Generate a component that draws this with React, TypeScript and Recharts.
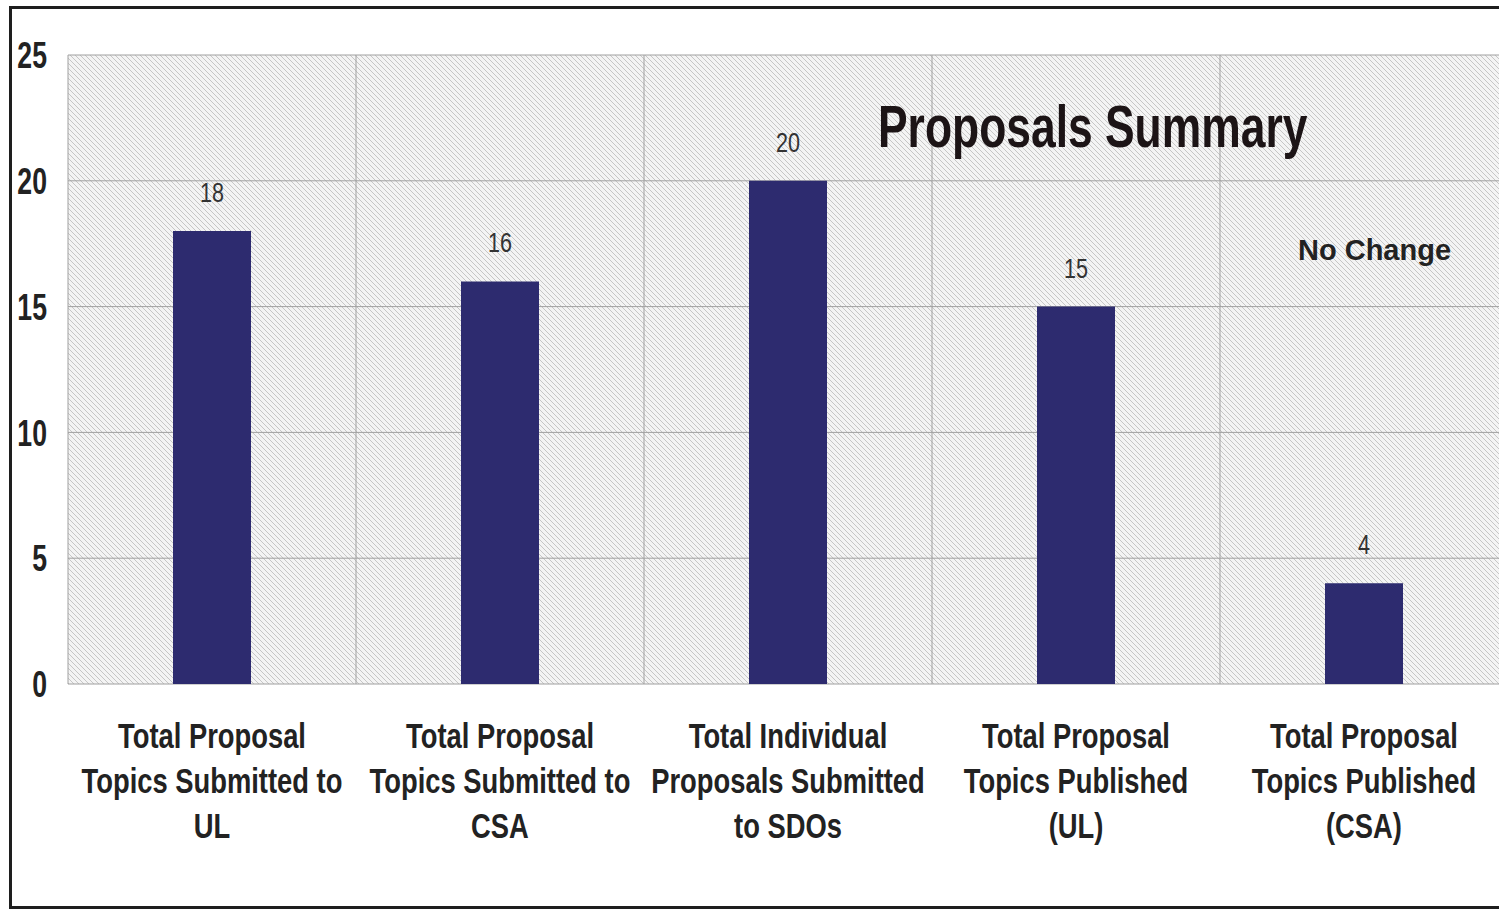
import React from "react";
import {
    BarChart,
    Bar,
    XAxis,
    YAxis,
    CartesianGrid,
    LabelList,
} from "recharts";

// categories, values and axis ticks
const categories = ["UL submitted", "CSA submitted", "SDO proposals", "UL published", "CSA published"];
const values = [18, 16, 20, 15, 4];
const categoryLines = [
    ["Total Proposal", "Topics Submitted to", "UL"],
    ["Total Proposal", "Topics Submitted to", "CSA"],
    ["Total Individual", "Proposals Submitted", "to SDOs"],
    ["Total Proposal", "Topics Published", "(UL)"],
    ["Total Proposal", "Topics Published", "(CSA)"],
];
const yTicks = [0, 5, 10, 15, 20, 25];

const data = categories.map((c, i) => ({ name: c, value: values[i] }));

const SANS = "'Liberation Sans', Arial, sans-serif";

// no narrow font installed, so squeeze Liberation Sans horizontally around an x
const squeeze = (x: number, k: number) => `translate(${x} 0) scale(${k} 1) translate(${-x} 0)`;

const CategoryTick = (props: any) => {
    const { x, y, payload } = props;
    const lines = categoryLines[payload.index] || [];
    return (
        <text
            x={x}
            y={y + 56}
            textAnchor="middle"
            fill="#222"
            fontFamily={SANS}
            fontWeight="bold"
            fontSize={36}
            transform={squeeze(x, 0.76)}
        >
            {lines.map((l, i) => (
                <tspan key={i} x={x} dy={i === 0 ? 0 : 45}>
                    {l}
                </tspan>
            ))}
        </text>
    );
};

const ValueTick = (props: any) => {
    const { x, y, payload } = props;
    return (
        <text
            x={x}
            y={y}
            dy="0.355em"
            textAnchor="end"
            fill="#222"
            fontFamily={SANS}
            fontWeight="bold"
            fontSize={37}
            transform={squeeze(x, 0.72)}
        >
            {payload.value}
        </text>
    );
};

const BarValue = (props: any) => {
    const { x, y, width, value } = props;
    const cx = x + width / 2;
    return (
        <text
            x={cx}
            y={y - 29}
            textAnchor="middle"
            fill="#333"
            fontFamily={SANS}
            fontSize={27}
            transform={squeeze(cx, 0.8)}
        >
            {value}
        </text>
    );
};

// grid lines sit on the category boundaries, not the centres
const boundaryLines = ({ offset }: any) => {
    const step = offset.width / categories.length;
    return categories.map((_, i) => offset.left + i * step);
};

export default function App() {
    return (
        <div
            style={{
                position: "absolute",
                left: 0,
                top: 0,
                width: 1499,
                height: 910,
                overflow: "hidden",
                background: "#fff",
            }}
        >
            <svg width={0} height={0} style={{ position: "absolute" }}>
                <defs>
                    <pattern id="hatch" width={5} height={5} patternUnits="userSpaceOnUse">
                        <rect width={5} height={5} fill="#f4f4f4" />
                        <path d="M0,0 L5,5 M-1,4 L1,6 M4,-1 L6,1" stroke="#c6c6c6" strokeWidth={1} />
                    </pattern>
                </defs>
            </svg>
            <div
                style={{
                    position: "absolute",
                    left: 9,
                    top: 6,
                    width: 1600,
                    height: 897,
                    border: "3px solid #1e1e1e",
                }}
            />
            <div style={{ position: "absolute", left: 0, top: 0 }}>
                <BarChart
                    width={1520}
                    height={910}
                    data={data}
                    margin={{ top: 55, right: 12, bottom: 76, left: 8 }}
                >
                    <CartesianGrid
                        stroke="#a0a0a0"
                        fill="url(#hatch)"
                        fillOpacity={1}
                        verticalCoordinatesGenerator={boundaryLines}
                    />
                    <XAxis
                        dataKey="name"
                        axisLine={false}
                        tickLine={false}
                        height={150}
                        interval={0}
                        tick={<CategoryTick />}
                    />
                    <YAxis
                        width={60}
                        domain={[0, 25]}
                        ticks={yTicks}
                        axisLine={false}
                        tickLine={false}
                        tickMargin={15}
                        tick={<ValueTick />}
                    />
                    <Bar dataKey="value" fill="#2d2b6f" barSize={78} isAnimationActive={false}>
                        <LabelList dataKey="value" content={<BarValue />} />
                    </Bar>
                </BarChart>
            </div>
            <div
                style={{
                    position: "absolute",
                    left: 878,
                    top: 92,
                    fontFamily: SANS,
                    fontWeight: "bold",
                    fontSize: 60,
                    color: "#1c1416",
                    lineHeight: "70px",
                    whiteSpace: "nowrap",
                    transform: "scaleX(0.74)",
                    transformOrigin: "left top",
                }}
            >
                Proposals Summary
            </div>
            <div
                style={{
                    position: "absolute",
                    left: 1298,
                    top: 232,
                    fontFamily: SANS,
                    fontWeight: "bold",
                    fontSize: 29,
                    color: "#222",
                    lineHeight: "36px",
                    whiteSpace: "nowrap",
                }}
            >
                No Change
            </div>
        </div>
    );
}
